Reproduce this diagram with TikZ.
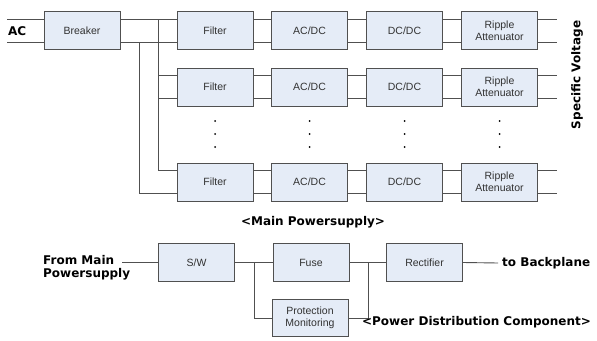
\documentclass[tikz,border=0pt]{standalone}
\usepackage{fontspec}
\setmainfont{Liberation Sans}
\newfontfamily\labelfont{DejaVu Sans}
\definecolor{cfill}{RGB}{229,236,247}
\definecolor{cline}{RGB}{80,80,80}
\definecolor{ctext}{RGB}{50,50,50}

\begin{document}
\begin{tikzpicture}[x=1pt, y=-1pt,
  font=\fontsize{10.5}{12}\selectfont,
  blk/.style={draw=cline, fill=cfill, text=ctext, align=center,
              minimum width=76pt, minimum height=38pt, inner sep=1pt,
              line width=0.9pt},
  wire/.style={cline, line width=0.9pt},
  lbl/.style={font=\labelfont\bfseries\fontsize{12}{13}\selectfont,
              inner sep=0pt, align=left},
]
\useasboundingbox (0,0) rectangle (597,340);

% --- main powersupply: breaker and the converter rows ------------------
\node[blk] (brk) at (82,30.5) {Breaker};
\node[lbl, anchor=west] (ac) at (8,31) {AC};
\draw[wire] ([yshift=11.5pt]brk.west) -- ++(-37,0);
\draw[wire] ([yshift=-11.5pt]brk.west) -- ++(-37,0);

\foreach \r/\y in {1/30.5, 2/87, 4/182} {
  \node[blk] (f\r) at (215,\y) {Filter};
  \node[blk] (a\r) at (309.5,\y) {AC/DC};
  \node[blk] (d\r) at (404.5,\y) {DC/DC};
  \node[blk] (p\r) at (499.5,\y) {Ripple\\Attenuator};
  \coordinate (fu\r) at ([yshift=11.5pt]f\r.west);
  \coordinate (fl\r) at ([yshift=-11.5pt]f\r.west);
  \foreach \u/\v in {f/a, a/d, d/p} {
    \draw[wire] ([yshift=11.5pt]\u\r.east) -- ([yshift=11.5pt]\v\r.west);
    \draw[wire] ([yshift=-11.5pt]\u\r.east) -- ([yshift=-11.5pt]\v\r.west);
  }
  \draw[wire] ([yshift=11.5pt]p\r.east) -- ++(19,0);
  \draw[wire] ([yshift=-11.5pt]p\r.east) -- ++(19,0);
}

% the two feed buses on the left of the filters
\coordinate (bus1) at (158,0);
\coordinate (bus2) at (139,0);
\draw[wire] ([yshift=11.5pt]brk.east) -- (fu1);
\draw[wire] ([yshift=-11.5pt]brk.east) -- (fl1);
\draw[wire] (fu1 -| bus1) -- (fu4 -| bus1) -- (fu4);
\draw[wire] (fu2 -| bus1) -- (fu2);
\draw[wire] (fl2 -| bus1) -- (fl2);
\draw[wire] (fl1 -| bus2) -- (fl4 -| bus2) -- (fl4);

% rows left out
\foreach \c in {f,a,d,p}
  \foreach \y in {121,134,147}
    \fill (\c2 |- 0,\y) circle (1pt);

\node[lbl, rotate=90] (spec) at (577,75) {Specific Voltage};
\node[lbl] (mtitle) at (313,222) {<Main Powersupply>};

% --- power distribution component ------------------------------------
\node[blk] (sw) at (196.5,262.5) {S/W};
\node[blk] (fuse) at (311,262.5) {Fuse};
\node[blk, minimum height=37pt] (prot) at (310,318) {Protection\\Monitoring};
\node[blk] (rect) at (424.5,262.5) {Rectifier};
\node[lbl, anchor=west] (from) at (43,267.5) {From Main\\Powersupply};
\node[lbl, anchor=west] (bp) at (502,263) {to Backplane};

\coordinate (fromend) at (122,262.5);
\coordinate (j1) at (254,262.5);
\coordinate (j2) at (368,262.5);
\draw[wire] (fromend) -- (sw.west);
\draw[wire] (sw.east) -- (fuse.west);
\draw[wire] (j1) |- (prot.west);
\draw[wire] (fuse.east) -- (rect.west);
\draw[wire] (j2) |- (prot.east);
\draw[wire] (rect.east) -- ([xshift=-4pt]bp.west);

\node[lbl] (dtitle) at (476.5,322) {<Power Distribution Component>};
\end{tikzpicture}
\end{document}
